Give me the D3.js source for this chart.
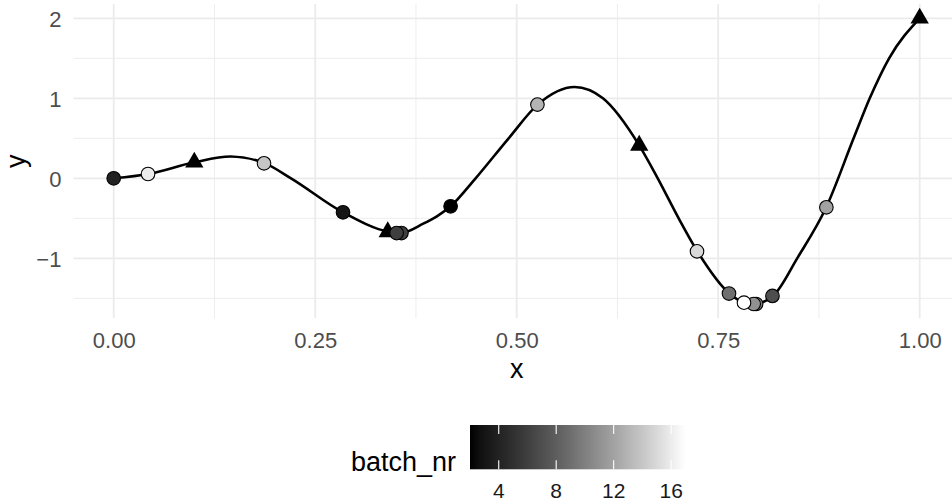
<!DOCTYPE html>
<html>
<head>
<meta charset="utf-8">
<script src="https://cdn.jsdelivr.net/npm/d3@7"></script>
<style>
  html, body { margin: 0; padding: 0; background: #fff; }
  svg { display: block; font-family: "Liberation Sans", Arial, Helvetica, sans-serif; }
</style>
</head>
<body>
<svg id="chart" width="952" height="502"></svg>
<script>
// ---- data ----
const curveX = [0, 0.043, 0.1, 0.145, 0.187, 0.22, 0.2845, 0.34, 0.355, 0.384, 0.401, 0.418, 0.449, 0.49, 0.526, 0.572, 0.607, 0.652, 0.675, 0.701, 0.724, 0.764, 0.782, 0.794, 0.818, 0.848, 0.884, 0.918, 0.938, 0.962, 1.0];
const curveY = [0, 0.054, 0.2, 0.272, 0.19, 0.0, -0.425, -0.665, -0.686, -0.567, -0.475, -0.35, 0.0, 0.5, 0.921, 1.141, 1.0, 0.412, 0.0, -0.5, -0.91, -1.44, -1.554, -1.571, -1.47, -1.0, -0.3625, 0.5, 1.0, 1.5, 2.0];

const initX = [0.1, 0.34, 0.652, 1.0];
const initY = [0.2, -0.67, 0.412, 2.0];

const propX     = [0.418, 0.2845, 0.0, 0.357, 0.351, 0.8173, 0.7634, 0.797, 0.794, 0.8842, 0.5257, 0.1865, 0.7237, 0.0426, 0.782];
const propY     = [-0.35, -0.425, 0.0, -0.684, -0.684, -1.47, -1.44, -1.571, -1.571, -0.3625, 0.921, 0.1875, -0.9125, 0.054, -1.554];
const propBatch = [2, 3, 4, 6, 6, 7, 9, 10, 11, 12, 13, 14, 15, 16, 17];

const xTicks = [0, 0.25, 0.5, 0.75, 1];
const xMinor = [0.125, 0.375, 0.625, 0.875];
const yTicks = [-1, 0, 1, 2];
const yMinor = [-1.5, -0.5, 0.5, 1.5];
const batchDomain = [2, 17];
const batchTicks = [4, 8, 12, 16];

// ---- drawing ----
const svg = d3.select("#chart");
const panel = { left: 73.4, right: 960, top: 4, bottom: 318.3 };

const x = d3.scaleLinear().domain([-0.05, 1.05]).range([panel.left, panel.right]);
const y = d3.scaleLinear().domain([-1.7496, 2.1786]).range([panel.bottom, panel.top]);
const col = d3.scaleLinear().domain(batchDomain).range(["#000000", "#ffffff"]).interpolate(d3.interpolateLab);

const grid = svg.append("g");
grid.selectAll(".xmin").data(xMinor).join("line")
  .attr("x1", d => x(d)).attr("x2", d => x(d)).attr("y1", panel.top).attr("y2", panel.bottom)
  .attr("stroke", "#ebebeb").attr("stroke-width", 0.9);
grid.selectAll(".ymin").data(yMinor).join("line")
  .attr("y1", d => y(d)).attr("y2", d => y(d)).attr("x1", panel.left).attr("x2", panel.right)
  .attr("stroke", "#ebebeb").attr("stroke-width", 0.9);
grid.selectAll(".xmaj").data(xTicks).join("line")
  .attr("x1", d => x(d)).attr("x2", d => x(d)).attr("y1", panel.top).attr("y2", panel.bottom)
  .attr("stroke", "#ebebeb").attr("stroke-width", 1.8);
grid.selectAll(".ymaj").data(yTicks).join("line")
  .attr("y1", d => y(d)).attr("y2", d => y(d)).attr("x1", panel.left).attr("x2", panel.right)
  .attr("stroke", "#ebebeb").attr("stroke-width", 1.8);

// axes via d3 axis generators, then styled
const xAxis = svg.append("g").attr("transform", `translate(0,${panel.bottom})`)
  .call(d3.axisBottom(x).tickValues(xTicks).tickFormat(d3.format(".2f")).tickSize(0).tickPadding(0));
const yAxis = svg.append("g").attr("transform", `translate(${panel.left},0)`)
  .call(d3.axisLeft(y).tickValues(yTicks).tickFormat(d => d < 0 ? "\u2212" + Math.abs(d) : d).tickSize(0).tickPadding(12));
[xAxis, yAxis].forEach(a => {
  a.attr("font-size", null).attr("font-family", null);
  a.select(".domain").remove();
  a.selectAll("text").style("font-size", "22px").attr("fill", "#4d4d4d")
    .style("font-family", "'Liberation Sans', Arial, sans-serif");
});
xAxis.selectAll("text").attr("y", 29.5).attr("dy", null);
yAxis.selectAll("text").attr("dy", "0.36em");

svg.append("text").attr("x", (panel.left + panel.right) / 2).attr("y", 378)
  .attr("text-anchor", "middle").style("font-size", "27px").text("x");
svg.append("text").attr("transform", `translate(25,${(panel.top + panel.bottom) / 2}) rotate(-90)`)
  .attr("text-anchor", "middle").style("font-size", "27px").text("y");

// curve
const line = d3.line().x((d, i) => x(curveX[i])).y((d, i) => y(curveY[i])).curve(d3.curveMonotoneX);
svg.append("path").datum(curveX).attr("d", line)
  .attr("fill", "none").attr("stroke", "#000").attr("stroke-width", 2.6);

// initial design triangles
const R = 6.8;
const tri = `M0,${-1.555 * R}L${1.347 * R},${0.778 * R}L${-1.347 * R},${0.778 * R}Z`;
svg.append("g").selectAll("path").data(initX).join("path")
  .attr("transform", (d, i) => `translate(${x(d)},${y(initY[i])})`)
  .attr("d", tri).attr("fill", "#000");

// proposed points
svg.append("g").selectAll("circle").data(propX).join("circle")
  .attr("cx", d => x(d)).attr("cy", (d, i) => y(propY[i])).attr("r", 6.8)
  .attr("fill", (d, i) => col(propBatch[i])).attr("stroke", "#000").attr("stroke-width", 1.1);

// legend colourbar
const lx = d3.scaleLinear().domain(batchDomain).range([470, 685.5]);
const defs = svg.append("defs");
const grad = defs.append("linearGradient").attr("id", "g").attr("x1", "0%").attr("x2", "100%");
d3.range(0, 1.0001, 0.05).forEach(t => {
  grad.append("stop").attr("offset", (t * 100) + "%").attr("stop-color", col(batchDomain[0] + t * (batchDomain[1] - batchDomain[0])));
});
const barTop = 425, barBot = 469.3;
svg.append("rect").attr("x", lx(batchDomain[0])).attr("y", barTop)
  .attr("width", lx(batchDomain[1]) - lx(batchDomain[0])).attr("height", barBot - barTop)
  .attr("fill", "url(#g)");
const lg = svg.append("g");
lg.selectAll(".tt").data(batchTicks).join("line")
  .attr("x1", d => lx(d)).attr("x2", d => lx(d)).attr("y1", barTop).attr("y2", barTop + 9)
  .attr("stroke", "#fff").attr("stroke-width", 1.1);
lg.selectAll(".tb").data(batchTicks).join("line")
  .attr("x1", d => lx(d)).attr("x2", d => lx(d)).attr("y1", barBot - 9).attr("y2", barBot)
  .attr("stroke", "#fff").attr("stroke-width", 1.1);
lg.selectAll("text").data(batchTicks).join("text")
  .attr("x", d => lx(d)).attr("y", 498).attr("text-anchor", "middle")
  .style("font-size", "21px").attr("fill", "#1a1a1a").text(d => d);
svg.append("text").attr("x", 351).attr("y", 471).style("font-size", "27px").text("batch_nr");
</script>
</body>
</html>
